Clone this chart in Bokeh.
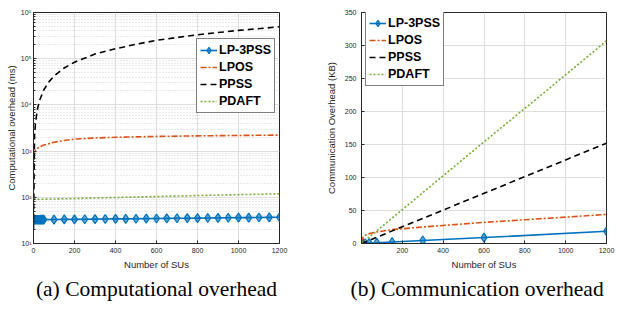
from bokeh.plotting import figure
from bokeh.layouts import row
from bokeh.models import FixedTicker, Range1d
from bokeh.embed import file_html
from bokeh.resources import INLINE

# ---------------- (a) Computational overhead (log y) ----------------
comp_lp3pss_x = [1, 5, 10, 15, 20, 25, 30, 35, 40, 45, 50,
                 100, 150, 200, 250, 300, 350, 400, 450, 500, 550, 600, 650,
                 700, 750, 800, 850, 900, 950, 1000, 1050, 1100, 1150, 1200]
comp_lp3pss_y = [32.6, 32.6, 32.7, 32.7, 32.7, 32.7, 32.7, 32.8, 32.8, 32.8, 32.8,
                 33.0, 33.2, 33.3, 33.5, 33.7, 33.9, 34.1, 34.2, 34.4, 34.6, 34.8, 35.0,
                 35.2, 35.3, 35.5, 35.7, 35.9, 36.1, 36.3, 36.4, 36.6, 36.8, 37.0]

comp_lpos_x = [1, 5, 10, 25, 50, 100, 150, 200, 300, 400, 600, 800, 1000, 1200]
comp_lpos_y = [800, 950, 1050, 1200, 1350, 1550, 1700, 1820, 1920, 1990, 2080, 2140, 2180, 2220]

comp_ppss_x = [0, 5, 10, 20, 30, 50, 75, 100, 150, 200, 300, 400, 500, 600, 800, 1000, 1200]
comp_ppss_y = [20, 2100, 4200, 8400, 12600, 21000, 31500, 42000, 63000, 84000,
               126000, 164000, 205000, 250000, 330000, 410000, 490000]

comp_pdaft_x = [0, 200, 400, 600, 800, 1000, 1200]
comp_pdaft_y = [90, 94, 99, 104, 109, 114, 119]

comp_xticks = [0, 200, 400, 600, 800, 1000, 1200]
comp_yticks = [10, 100, 1000, 10000, 100000, 1000000]
comp_ytick_labels = ["10\u00b9", "10\u00b2", "10\u00b3", "10\u2074", "10\u2075", "10\u2076"]

# ---------------- (b) Communication overhead ----------------
comm_lp3pss_x = [1.17, 2.34, 4.69, 9.4, 18.75, 37.5, 75, 150, 300, 600, 1200]
comm_lp3pss_y = [0.02, 0.04, 0.07, 0.14, 0.28, 0.56, 1.1, 2.3, 4.5, 9.0, 18.5]

comm_lpos_x = [0, 1, 2, 5, 9, 19, 38, 75, 150, 300, 600, 900, 1200]
comm_lpos_y = [1.5, 3, 5, 8, 10, 12.5, 15, 17.5, 21, 25, 32, 38, 44]

comm_ppss_x = [0, 300, 600, 900, 1200]
comm_ppss_y = [0, 38, 76, 114, 152]

comm_pdaft_x = [0, 300, 600, 900, 1200]
comm_pdaft_y = [0, 77, 154, 230, 307]

comm_xticks = [200, 400, 600, 800, 1000, 1200]
comm_yticks = [0, 50, 100, 150, 200, 250, 300, 350]

BLUE = "#0072BD"
ORANGE = "#D95319"
BLACK = "#000000"
GREEN = "#77AC30"
AX = "#262626"
GRID = "#dedede"

SANS = "Liberation Sans"
SERIF = "Liberation Serif"


def style(p, caption, ylab_standoff, label_standoff):
    p.outline_line_color = AX
    p.outline_line_width = 1
    for ax in (p.xaxis, p.yaxis):
        ax.axis_line_color = AX
        ax.major_tick_line_color = AX
        ax.minor_tick_line_color = AX
        ax.major_tick_in = 3
        ax.major_tick_out = 0
        ax.minor_tick_in = 0
        ax.minor_tick_out = 0
        ax.major_label_text_font = SANS
        ax.major_label_text_font_size = "7px"
        ax.major_label_text_color = AX
        ax.axis_label_text_font = SANS
        ax.axis_label_text_font_size = "9.5px"
        ax.axis_label_text_font_style = "normal"
        ax.axis_label_text_color = AX
    p.xaxis.major_label_standoff = 4
    p.xaxis.axis_label_standoff = 3
    p.yaxis.major_label_standoff = label_standoff
    p.yaxis.axis_label_standoff = ylab_standoff
    p.xgrid.grid_line_color = GRID
    p.ygrid.grid_line_color = GRID
    p.title.text = caption
    p.title.text_font = SERIF
    p.title.text_font_size = "21.5px"
    p.title.text_font_style = "normal"
    p.title.text_color = "#000000"
    p.title.standoff = 5


def style_legend(p, loc):
    lg = p.legend[0]
    lg.location = loc
    lg.label_text_font = SANS
    lg.label_text_font_style = "bold"
    lg.label_text_font_size = "12.5px"
    lg.label_text_color = "#000000"
    lg.border_line_color = "#000000"
    lg.border_line_width = 1
    lg.background_fill_alpha = 1.0
    lg.padding = 3
    lg.spacing = 1
    lg.margin = 0
    lg.label_height = 16
    lg.glyph_height = 16
    lg.glyph_width = 17
    lg.label_standoff = 2
    lg.label_width = 50


# ---- figure (a)
p1 = figure(frame_width=246, frame_height=231, y_axis_type="log",
            x_range=Range1d(0, 1200), y_range=Range1d(10, 1e6),
            output_backend="svg", toolbar_location=None,
            min_border_left=33, min_border_right=30, min_border_top=12,
            min_border_bottom=66, title_location="below")
style(p1, "(a) Computational overhead", 1, 2)
p1.title.align = "center"
p1.xaxis.ticker = FixedTicker(ticks=comp_xticks)
minor = [m * d for d in comp_yticks[:-1] for m in range(2, 10)]
p1.yaxis.ticker = FixedTicker(ticks=comp_yticks, minor_ticks=minor)
p1.yaxis.major_label_overrides = {float(t): s for t, s in zip(comp_yticks, comp_ytick_labels)}
p1.yaxis.minor_tick_in = 2
p1.ygrid.minor_grid_line_color = "#d4d4d4"
p1.ygrid.minor_grid_line_dash = "1 2"
p1.xaxis.axis_label = "Number of SUs"
p1.yaxis.axis_label = "Computational overhead (ms)"

p1.line(comp_lp3pss_x, comp_lp3pss_y, color=BLUE, line_width=1.6, legend_label="LP-3PSS")
p1.scatter(comp_lp3pss_x, comp_lp3pss_y, marker="diamond", size=9, line_color=BLUE,
           fill_color=BLUE, fill_alpha=0.6, line_width=1.2, legend_label="LP-3PSS")
p1.line(comp_lpos_x, comp_lpos_y, color=ORANGE, line_width=1.6, line_dash="6 2 2 2", legend_label="LPOS")
p1.line(comp_ppss_x, comp_ppss_y, color=BLACK, line_width=1.6, line_dash="6 4", legend_label="PPSS")
p1.line(comp_pdaft_x, comp_pdaft_y, color=GREEN, line_width=1.6, line_dash="2 2", legend_label="PDAFT")
style_legend(p1, (163, 130))

# ---- figure (b)
p2 = figure(frame_width=245, frame_height=231,
            x_range=Range1d(0, 1200), y_range=Range1d(0, 350),
            output_backend="svg", toolbar_location=None,
            min_border_left=52, min_border_right=11, min_border_top=12,
            min_border_bottom=66, title_location="below")
style(p2, "(b) Communication overhead", 5, 5)
p2.title.align = "left"
p2.title.offset = -11
p2.xaxis.ticker = FixedTicker(ticks=comm_xticks)
p2.yaxis.ticker = FixedTicker(ticks=comm_yticks)
p2.xaxis.axis_label = "Number of SUs"
p2.yaxis.axis_label = "Communication Overhead (KB)"

p2.line(comm_lp3pss_x, comm_lp3pss_y, color=BLUE, line_width=1.6, legend_label="LP-3PSS")
p2.scatter(comm_lp3pss_x, comm_lp3pss_y, marker="diamond", size=9, line_color=BLUE,
           fill_color=BLUE, fill_alpha=0.6, line_width=1.2, legend_label="LP-3PSS")
p2.line(comm_lpos_x, comm_lpos_y, color=ORANGE, line_width=1.6, line_dash="6 2 2 2", legend_label="LPOS")
p2.line(comm_ppss_x, comm_ppss_y, color=BLACK, line_width=1.6, line_dash="6 4", legend_label="PPSS")
p2.line(comm_pdaft_x, comm_pdaft_y, color=GREEN, line_width=1.6, line_dash="2 2", legend_label="PDAFT")
style_legend(p2, (4, 157))

layout = row(p1, p2)
open("out.html", "w").write(file_html(layout, INLINE))
